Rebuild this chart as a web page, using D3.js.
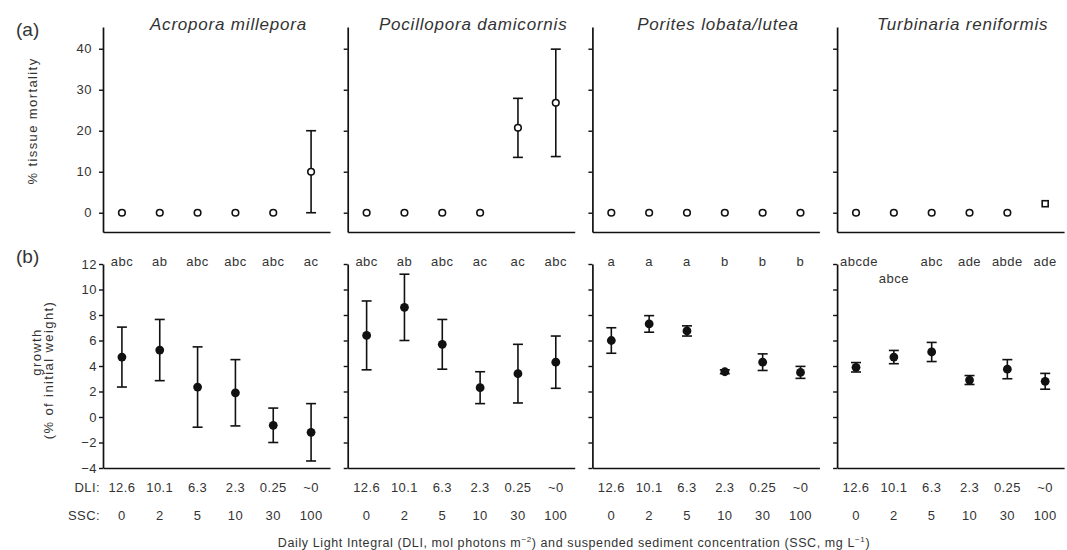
<!DOCTYPE html>
<html>
<head>
<meta charset="utf-8">
<script src="https://cdn.jsdelivr.net/npm/d3@7"></script>
<style>
  body { margin: 0; background: #fff; }
  svg { display: block; font-family: "Liberation Sans", Arial, sans-serif; }
</style>
</head>
<body>
<div id="chart"></div>
<script>
// treatment labels
const dli = ["12.6", "10.1", "6.3", "2.3", "0.25", "~0"];
const ssc = ["0", "2", "5", "10", "30", "100"];
const species = ["Acropora millepora", "Pocillopora damicornis", "Porites lobata/lutea", "Turbinaria reniformis"];

// (a) % tissue mortality, mean and error
const acroMort = [0, 0, 0, 0, 0, 10];
const acroMortErr = [0, 0, 0, 0, 0, 10];
const pociMort = [0, 0, 0, 0, 20.7, 26.8];
const pociMortErr = [0, 0, 0, 0, 7.2, 13.1];
const poriMort = [0, 0, 0, 0, 0, 0];
const poriMortErr = [0, 0, 0, 0, 0, 0];
const turbMort = [0, 0, 0, 0, 0, 2.2];
const turbMortErr = [0, 0, 0, 0, 0, 0];
const turbMortShape = ["circle", "circle", "circle", "circle", "circle", "square"];

// (b) growth, % of initial weight
const acroGrowth = [4.7, 5.25, 2.35, 1.9, -0.65, -1.2];
const acroGrowthErr = [2.35, 2.4, 3.15, 2.6, 1.35, 2.25];
const pociGrowth = [6.4, 8.6, 5.7, 2.3, 3.4, 4.3];
const pociGrowthErr = [2.7, 2.6, 1.95, 1.25, 2.3, 2.05];
const poriGrowth = [6.0, 7.3, 6.75, 3.55, 4.3, 3.5];
const poriGrowthErr = [1.0, 0.65, 0.4, 0.15, 0.65, 0.47];
const turbGrowth = [3.9, 4.7, 5.1, 2.9, 3.75, 2.8];
const turbGrowthErr = [0.37, 0.52, 0.75, 0.35, 0.75, 0.62];

// significance letters ("\n" = second line)
const acroLetters = ["abc", "ab", "abc", "abc", "abc", "ac"];
const pociLetters = ["abc", "ab", "abc", "ac", "ac", "abc"];
const poriLetters = ["a", "a", "a", "b", "b", "b"];
const turbLetters = ["abcde", "\nabce", "abc", "ade", "abde", "ade"];

const mortTicks = [0, 10, 20, 30, 40];
const growthTicks = [-4, -2, 0, 2, 4, 6, 8, 10, 12];

const panels = [
  { mort: acroMort, mortErr: acroMortErr, growth: acroGrowth, growthErr: acroGrowthErr, letters: acroLetters },
  { mort: pociMort, mortErr: pociMortErr, growth: pociGrowth, growthErr: pociGrowthErr, letters: pociLetters },
  { mort: poriMort, mortErr: poriMortErr, growth: poriGrowth, growthErr: poriGrowthErr, letters: poriLetters },
  { mort: turbMort, mortErr: turbMortErr, growth: turbGrowth, growthErr: turbGrowthErr, letters: turbLetters, shape: turbMortShape }
];

const width = 1067;
const height = 550;
const left = 103;
const panelStep = 244.7;
const panelWidth = 227;
const ink = "#111";
const textColor = "#333";

const svg = d3.select("#chart")
  .append("svg")
  .attr("width", width)
  .attr("height", height);

const yTop = d3.scaleLinear().domain([-4.7, 45.3]).range([232, 27]);
const yBot = d3.scaleLinear().domain([-4, 12]).range([468, 264]);

function styleAxis(g) {
  g.selectAll("path.domain").attr("stroke", ink).attr("stroke-width", 1.7);
  g.selectAll(".tick line").attr("stroke", ink).attr("stroke-width", 1.4);
  g.selectAll(".tick text")
    .attr("fill", textColor)
    .style("font-size", "13px")
    .style("letter-spacing", "0.5px");
}

function errorBars(g, x, y, means, errs) {
  const cap = 5;
  const d = means.map((m, i) => ({ i, m, e: errs[i] })).filter(d => d.e > 0);
  g.selectAll(null).data(d).enter().append("line")
    .attr("x1", d => x(d.i)).attr("x2", d => x(d.i))
    .attr("y1", d => y(d.m - d.e)).attr("y2", d => y(d.m + d.e))
    .attr("stroke", ink).attr("stroke-width", 1.6);
  [-1, 1].forEach(s => {
    g.selectAll(null).data(d).enter().append("line")
      .attr("x1", d => x(d.i) - cap).attr("x2", d => x(d.i) + cap)
      .attr("y1", d => y(d.m + s * d.e)).attr("y2", d => y(d.m + s * d.e))
      .attr("stroke", ink).attr("stroke-width", 1.6);
  });
}

panels.forEach((p, k) => {
  const x0 = left + k * panelStep;
  const x = d3.scalePoint().domain(d3.range(6)).range([x0, x0 + panelWidth]).padding(0.5);

  // ---- (a) mortality ----
  const gt = svg.append("g");
  gt.append("g")
    .attr("transform", `translate(${x0},0)`)
    .call(d3.axisLeft(yTop).tickValues(mortTicks).tickSize(4).tickSizeOuter(0).tickPadding(7)
      .tickFormat(k === 0 ? d3.format("d") : ""))
    .call(styleAxis);
  gt.append("g")
    .attr("transform", `translate(0,${yTop.range()[0]})`)
    .call(d3.axisBottom(x).tickValues([]).tickSizeOuter(0))
    .call(styleAxis);

  errorBars(gt, x, yTop, p.mort, p.mortErr);

  p.mort.forEach((m, i) => {
    const shape = p.shape ? p.shape[i] : "circle";
    if (shape === "square") {
      gt.append("rect")
        .attr("x", x(i) - 3).attr("y", yTop(m) - 3)
        .attr("width", 6).attr("height", 6)
        .attr("fill", "#fff").attr("stroke", ink).attr("stroke-width", 1.6);
    } else {
      gt.append("circle")
        .attr("cx", x(i)).attr("cy", yTop(m)).attr("r", 3.3)
        .attr("fill", "#fff").attr("stroke", ink).attr("stroke-width", 1.6);
    }
  });

  svg.append("text")
    .attr("x", x0 + panelWidth / 2 + 12)
    .attr("y", 30)
    .attr("text-anchor", "middle")
    .attr("fill", textColor)
    .style("font-size", "17px")
    .style("font-style", "italic")
    .style("letter-spacing", "0.8px")
    .text(species[k]);

  // ---- (b) growth ----
  const gb = svg.append("g");
  gb.append("g")
    .attr("transform", `translate(${x0},0)`)
    .call(d3.axisLeft(yBot).tickValues(growthTicks).tickSize(4).tickSizeOuter(0).tickPadding(2)
      .tickFormat(k === 0 ? d3.format("d") : ""))
    .call(styleAxis);
  gb.append("g")
    .attr("transform", `translate(0,${yBot.range()[0]})`)
    .call(d3.axisBottom(x).tickValues([]).tickSizeOuter(0))
    .call(styleAxis);

  errorBars(gb, x, yBot, p.growth, p.growthErr);

  gb.selectAll(null).data(p.growth).enter().append("circle")
    .attr("cx", (d, i) => x(i)).attr("cy", d => yBot(d)).attr("r", 4.4)
    .attr("fill", ink);

  // letters
  p.letters.forEach((s, i) => {
    const lowered = s.startsWith("\n");
    const t = gb.append("text")
      .attr("x", x(i))
      .attr("y", lowered ? 283 : 266)
      .attr("text-anchor", "middle")
      .attr("fill", textColor)
      .style("font-size", "13px")
      .style("letter-spacing", "0.5px")
      .text(s.trim());
    // keep labels clear of the axis line
    const w = t.node().getComputedTextLength();
    if (x(i) - w / 2 < x0 + 3) t.attr("x", x0 + 3 + w / 2);
  });

  // treatment labels
  gb.selectAll(null).data(dli).enter().append("text")
    .attr("x", (d, i) => x(i)).attr("y", 492)
    .attr("text-anchor", "middle").attr("fill", textColor)
    .style("font-size", "13px").style("letter-spacing", "0.4px")
    .text(d => d);
  gb.selectAll(null).data(ssc).enter().append("text")
    .attr("x", (d, i) => x(i)).attr("y", 520)
    .attr("text-anchor", "middle").attr("fill", textColor)
    .style("font-size", "13px").style("letter-spacing", "0.4px")
    .text(d => d);
});

// row headers
[["DLI:", 492], ["SSC:", 520]].forEach(([s, y]) => {
  svg.append("text")
    .attr("x", 100).attr("y", y)
    .attr("text-anchor", "end").attr("fill", textColor)
    .style("font-size", "13px").style("letter-spacing", "0.4px")
    .text(s);
});

// panel tags
[["(a)", 29], ["(b)", 256]].forEach(([s, y]) => {
  svg.append("text")
    .attr("x", 16).attr("y", y + 7)
    .attr("fill", textColor)
    .style("font-size", "19px")
    .text(s);
});

// y labels
function rotLabel(s, x, y) {
  svg.append("text")
    .attr("transform", `translate(${x},${y}) rotate(-90)`)
    .attr("text-anchor", "middle")
    .attr("dominant-baseline", "central")
    .attr("fill", textColor)
    .style("font-size", "13px")
    .style("letter-spacing", "1.4px")
    .text(s);
}
rotLabel("% tissue mortality", 32, 121);
rotLabel("growth", 36, 352);
rotLabel("(% of initial weight)", 48, 370);

// x title with superscripts
const title = svg.append("text")
  .attr("x", 574).attr("y", 547)
  .attr("text-anchor", "middle")
  .attr("fill", textColor)
  .style("font-size", "12.5px")
  .style("letter-spacing", "0.6px");
title.append("tspan").text("Daily Light Integral (DLI, mol photons m");
title.append("tspan").attr("dy", -5).style("font-size", "8px").text("\u22122");
title.append("tspan").attr("dy", 5).text(") and suspended sediment concentration (SSC, mg L");
title.append("tspan").attr("dy", -5).style("font-size", "8px").text("\u22121");
title.append("tspan").attr("dy", 5).text(")");
</script>
</body>
</html>
